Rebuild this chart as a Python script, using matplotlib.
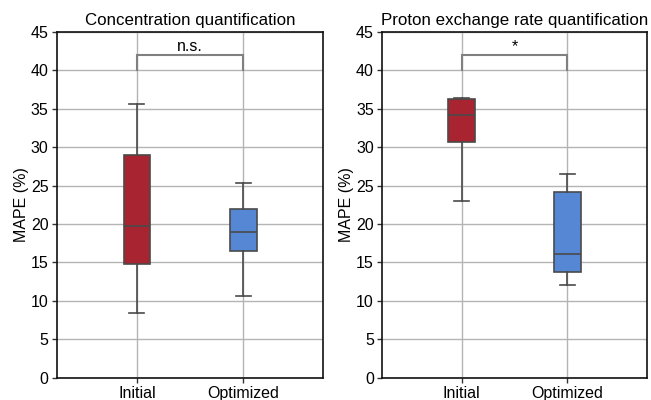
import matplotlib
matplotlib.use("Agg")
import matplotlib.pyplot as plt

plt.rcParams['font.family'] = ['Liberation Sans', 'DejaVu Sans']

groups = ["Initial", "Optimized"]
titles = ["Concentration quantification", "Proton exchange rate quantification"]
significance = ["n.s.", "*"]

# Box statistics per panel: [Initial, Optimized]
whisker_low = [[8.45, 10.65], [22.95, 12.05]]
q1 = [[14.85, 16.5], [30.65, 13.8]]
median = [[19.7, 19.0], [34.2, 16.1]]
q3 = [[28.95, 21.95], [36.3, 24.2]]
whisker_high = [[35.6, 25.35], [36.45, 26.5]]

box_colors = ["#A82431", "#5587D5"]
edge_color = "#4a4a4a"

fig = plt.figure(figsize=(6.51, 4.0), dpi=100)
axes = [fig.add_axes([0.0876, 0.0560, 0.4086, 0.8640]),
        fig.add_axes([0.5873, 0.0560, 0.4063, 0.8640])]

for k, ax in enumerate(axes):
    stats = []
    for i, g in enumerate(groups):
        stats.append(dict(label=g, whislo=whisker_low[k][i], q1=q1[k][i],
                          med=median[k][i], q3=q3[k][i],
                          whishi=whisker_high[k][i], fliers=[]))
    bp = ax.bxp(stats, positions=[0, 1], widths=0.25, patch_artist=True,
                showfliers=False,
                boxprops=dict(edgecolor=edge_color, linewidth=1.2),
                medianprops=dict(color=edge_color, linewidth=1.2),
                whiskerprops=dict(color=edge_color, linewidth=1.2),
                capprops=dict(color=edge_color, linewidth=1.2),
                capwidths=0.14)
    for patch, c in zip(bp['boxes'], box_colors):
        patch.set_facecolor(c)
        patch.set_zorder(3)
    for key in ('medians', 'whiskers', 'caps'):
        for line in bp[key]:
            line.set_zorder(4)

    ax.set_xlim(-0.75, 1.75)
    ax.set_ylim(0, 45)
    ax.set_yticks(range(0, 46, 5))
    ax.set_xticks([0, 1])
    ax.set_xticklabels(groups)
    ax.grid(True, color="#b4b4b4", linewidth=1.0, zorder=0)
    ax.set_axisbelow(True)
    ax.tick_params(labelsize=11.5, length=3.5, width=1.0, color="#333333", pad=2.5)
    for sp in ax.spines.values():
        sp.set_linewidth(1.2)
        sp.set_color("#111111")
    ax.set_ylabel("MAPE (%)", fontsize=11.5, labelpad=1.5)
    ax.set_title(titles[k], fontsize=12.2, pad=5)

    # significance bracket
    ax.plot([0, 0, 1, 1], [40, 42, 42, 40], color="#808080", linewidth=1.5,
            zorder=5, solid_joinstyle='miter')
    ax.text(0.5, 42.15, significance[k], ha='center', va='bottom', fontsize=11.5)

fig.savefig("out.png", dpi=100)
